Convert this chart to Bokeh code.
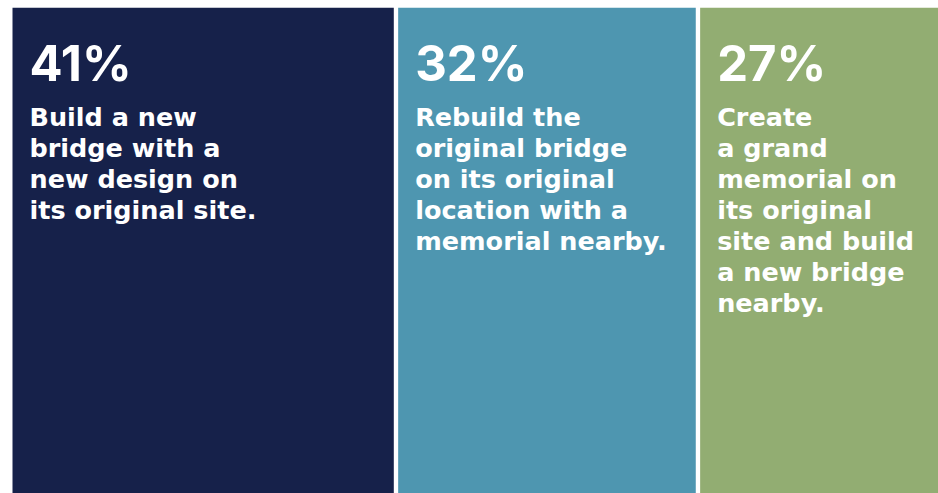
from bokeh.plotting import figure
from bokeh.models import Range1d
from bokeh.core.properties import value
from bokeh.embed import file_html
from bokeh.resources import INLINE

# ---- data ----
shares = [41, 32, 27]
pct_labels = ["41%", "32%", "27%"]
descriptions = [
    ["Build a new", "bridge with a", "new design on", "its original site."],
    ["Rebuild the", "original bridge", "on its original", "location with a", "memorial nearby."],
    ["Create", "a grand", "memorial on", "its original", "site and build", "a new bridge", "nearby."],
]
colors = ["#16214a", "#4e96b0", "#92ad72"]

# ---- layout constants ----
W, H = 938, 493
TOP_PAD = 7
FRAME_H = H - TOP_PAD
PX_PER_UNIT = 9.3
GAP = 0.47

lefts, rights = [], []
cur = 0.0
for s in shares:
    lefts.append(cur)
    rights.append(cur + s)
    cur += s + GAP

x0 = -12 / PX_PER_UNIT
p = figure(width=W, height=H, output_backend="svg", toolbar_location=None,
           x_range=Range1d(x0, x0 + W / PX_PER_UNIT), y_range=Range1d(0, FRAME_H),
           min_border=0, min_border_left=0, min_border_right=0,
           min_border_top=TOP_PAD, min_border_bottom=0)
p.axis.visible = False
p.grid.visible = False
p.outline_line_color = None
p.background_fill_color = "white"
p.border_fill_color = "white"

p.quad(left=lefts, right=rights, bottom=[0] * 3, top=[FRAME_H] * 3,
       fill_color=colors, line_color=None)

# percentages
p.text(x=lefts, y=[FRAME_H - 55.5] * 3, text=pct_labels, x_offset=17,
       text_font=value("Inter"), text_font_style="bold", text_font_size="49px",
       text_color="white", text_baseline="alphabetic", text_align="left")

# description lines
xs, ys, ts = [], [], []
for left, lines in zip(lefts, descriptions):
    for i, line in enumerate(lines):
        xs.append(left)
        ys.append(FRAME_H - 109.5 - 31 * i)
        ts.append(line)
p.text(x=xs, y=ys, text=ts, x_offset=17,
       text_font=value("DejaVu Sans"), text_font_style="bold", text_font_size="25.5px",
       text_color="white", text_baseline="alphabetic", text_align="left")

open("out.html", "w").write(file_html(p, INLINE))
